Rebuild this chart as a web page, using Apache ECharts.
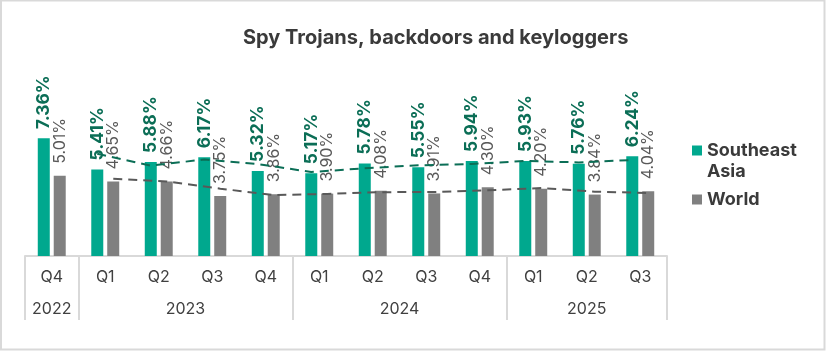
<!doctype html>
<html>
 <head>
  <meta charset="UTF-8">
  <script src="https://cdn.jsdelivr.net/npm/echarts@6/dist/echarts.min.js"></script>
  <title>Spy Trojans, backdoors and keyloggers</title>
  <style>
   html, body { margin: 0; padding: 0; background: #fff; }
   #chart { width: 826px; height: 351px; }
  </style>
 </head>
 <body>
  <div id="chart"></div>
  <script type="text/javascript">
    // quarters along the axis, grouped by year
    var quarters = ['Q4', 'Q1', 'Q2', 'Q3', 'Q4', 'Q1', 'Q2', 'Q3', 'Q4', 'Q1', 'Q2', 'Q3'];
    var years = ['2022', '2023', '2024', '2025'];
    var yearSpans = [1, 4, 4, 3];

    var seAsia = [7.36, 5.41, 5.88, 6.17, 5.32, 5.17, 5.78, 5.55, 5.94, 5.93, 5.76, 6.24];
    var world = [5.01, 4.65, 4.66, 3.75, 3.86, 3.90, 4.08, 3.91, 4.30, 4.20, 3.84, 4.04];

    // dashed trend lines (no point for the first quarter)
    var seAsiaTrend = [null, 6.39, 5.65, 6.03, 5.75, 5.25, 5.48, 5.67, 5.75, 5.94, 5.85, 6.00];
    var worldTrend = [null, 4.83, 4.66, 4.21, 3.81, 3.88, 3.99, 4.00, 4.11, 4.25, 4.02, 3.94];

    var font = 'Inter, "Noto Sans", sans-serif';

    // year group edges and centres on a -0.5 .. n-0.5 value scale
    var edges = [-0.5], centres = [], pos = -0.5;
    yearSpans.forEach(function (s) {
      centres.push(pos + s / 2);
      pos += s;
      edges.push(pos);
    });

    // trend points sit over each series' own bar
    var shift = 0.15;
    function trendPoints(arr, off) {
      var out = [];
      arr.forEach(function (v, i) { if (v != null) out.push([i + off, v]); });
      return out;
    }

    var myChart = echarts.init(document.getElementById('chart'));
    myChart.setOption({
      animation: false,
      textStyle: { fontFamily: font },
      title: {
        text: 'Spy Trojans, backdoors and keyloggers',
        left: 238,
        top: 23,
        textStyle: { fontFamily: font, fontSize: 20, fontWeight: 'bold', color: '#3a3a3a' }
      },
      legend: {
        orient: 'vertical',
        left: 692,
        top: 119,
        padding: 0,
        itemGap: 7,
        itemWidth: 10,
        itemHeight: 10,
        icon: 'rect',
        data: ['Southeast Asia', 'World'],
        // leading blank line keeps the marker level with the first word
        formatter: function (n) { return n === 'Southeast Asia' ? '\nSoutheast\nAsia' : n; },
        textStyle: { fontFamily: font, fontSize: 18, fontWeight: 'bold', color: '#3a3a3a', lineHeight: 21 }
      },
      grid: { left: 25, right: 159, top: 96, bottom: 95 },
      xAxis: [{
        type: 'category',
        data: quarters,
        axisLine: { lineStyle: { color: '#d9d9d9', width: 2 } },
        axisTick: { show: false },
        axisLabel: { margin: 13, fontSize: 16, color: '#404040', fontFamily: font }
      }, {
        type: 'value',
        min: -0.5,
        max: quarters.length - 0.5,
        position: 'bottom',
        axisLine: { show: false },
        splitLine: { show: false },
        axisTick: {
          show: true,
          customValues: edges,
          length: 64,
          lineStyle: { color: '#d9d9d9', width: 2 }
        },
        axisLabel: {
          customValues: centres,
          margin: 45,
          fontSize: 16,
          color: '#404040',
          fontFamily: font,
          formatter: function (v) {
            var k = centres.indexOf(v);
            return k >= 0 ? years[k] : '';
          }
        }
      }],
      yAxis: { type: 'value', min: 0, max: 10, show: false, splitLine: { show: false } },
      series: [{
        name: 'Southeast Asia',
        type: 'bar',
        data: seAsia,
        barWidth: 12,
        barGap: '33%',
        itemStyle: { color: '#00a88e' },
        label: {
          show: true,
          position: 'top',
          rotate: 90,
          align: 'left',
          verticalAlign: 'middle',
          distance: 9,
          formatter: function (p) { return p.value.toFixed(2) + '%'; },
          fontFamily: font,
          fontSize: 17.5,
          fontWeight: 'bold',
          color: '#0b6e56'
        }
      }, {
        name: 'World',
        type: 'bar',
        data: world,
        barWidth: 12,
        itemStyle: { color: '#808080' },
        label: {
          show: true,
          position: 'top',
          rotate: 90,
          align: 'left',
          verticalAlign: 'middle',
          distance: 12,
          formatter: function (p) { return p.value.toFixed(2) + '%'; },
          fontFamily: font,
          fontSize: 16,
          color: '#595959'
        }
      }, {
        name: 'SEA trend',
        type: 'line',
        xAxisIndex: 1,
        data: trendPoints(seAsiaTrend, -shift),
        symbol: 'none',
        z: 5,
        lineStyle: { color: '#0b6e56', width: 2, type: [9, 6] }
      }, {
        name: 'World trend',
        type: 'line',
        xAxisIndex: 1,
        data: trendPoints(worldTrend, shift),
        symbol: 'none',
        z: 5,
        lineStyle: { color: '#595959', width: 2, type: [9, 6] }
      }],
      graphic: [{
        type: 'rect',
        shape: { x: 1, y: 0.5, width: 823.5, height: 349 },
        style: { fill: 'none', stroke: '#d9d9d9', lineWidth: 2 },
        silent: true
      }]
    });
  </script>
 </body>
</html>
